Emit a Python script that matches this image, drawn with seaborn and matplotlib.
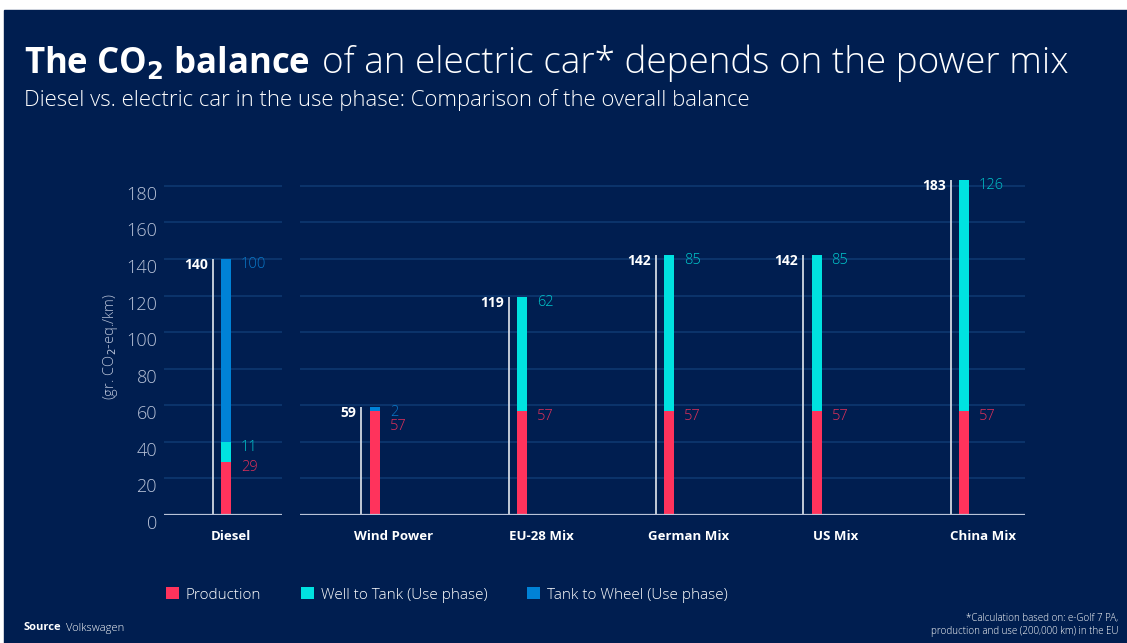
import matplotlib
matplotlib.use("Agg")
import matplotlib.pyplot as plt
from matplotlib.patches import Patch, Rectangle
import numpy as np
import pandas as pd
import seaborn as sns

# ── Data ──────────────────────────────────────────────────────────────────────
categories = ["Diesel", "Wind Power", "EU-28 Mix", "German Mix", "US Mix", "China Mix"]
production = [29, 57, 57, 57, 57, 57]
well_to_tank = [11, 0, 62, 85, 85, 126]
tank_to_wheel = [100, 2, 0, 0, 0, 0]
y_ticks = [0, 20, 40, 60, 80, 100, 120, 140, 160, 180]
series_names = ["Production", "Well to Tank (Use phase)", "Tank to Wheel (Use phase)"]

# ── Style ─────────────────────────────────────────────────────────────────────
BG = "#001E50"
GRID = "#0E3870"
AXIS = "#B9C3D8"
C_PROD, C_WTT, C_TTW = "#FF335C", "#00E2E0", "#0082D6"
L_PROD, L_WTT, L_TTW = "#E0305A", "#00C8CC", "#0A78C8"
colors = [C_PROD, C_WTT, C_TTW]
label_colors = [L_PROD, L_WTT, L_TTW]

sns.set_theme(style="white")
plt.rcParams["font.family"] = ["Open Sans", "DejaVu Sans"]

df = pd.DataFrame({
    "category": categories,
    "prod": production,
    "wtt": well_to_tank,
    "ttw": tank_to_wheel,
})
df["c1"] = df["prod"]
df["c2"] = df["prod"] + df["wtt"]
df["c3"] = df["c2"] + df["ttw"]

W, H = 1127, 643
fig = plt.figure(figsize=(W / 100, H / 100), dpi=100, facecolor="white")
fig.patches.append(Rectangle((4 / W, 0), 1 - 4 / W, 1 - 10 / H,
                             transform=fig.transFigure, color=BG, zorder=-10))

bottom = 1 - 515 / H
height = (515 - 178.6) / H
ax_d = fig.add_axes([164 / W, bottom, 118 / W, height])
ax_e = fig.add_axes([300 / W, bottom, 725 / W, height])

BAR_W = 0.068
LINE_DX = -0.09


def draw_panel(ax, sub, xlim, tick_dx, show_y):
    ax.set_facecolor(BG)
    # stacked bars: draw cumulative totals back to front
    for col, c in zip(["c3", "c2", "c1"], [C_TTW, C_WTT, C_PROD]):
        sns.barplot(data=sub, x="category", y=col, color=c, width=BAR_W,
                    saturation=1, ax=ax, zorder=3, linewidth=0)
    n = len(sub)
    xs = np.arange(n)
    ax.set_xlim(*xlim)
    ax.set_ylim(0, 184)
    ax.set_yticks(y_ticks)
    for y in y_ticks[1:]:
        ax.axhline(y, color=GRID, lw=1.2, zorder=1)
    ax.axhline(0, color=AXIS, lw=1.6, zorder=4)
    for s in ax.spines.values():
        s.set_visible(False)
    ax.set_xlabel("")
    ax.set_ylabel("")
    ax.set_xticks(xs + tick_dx)
    ax.set_xticklabels(sub["category"], color="white", fontsize=9.5,
                       fontweight="bold")
    ax.tick_params(axis="x", length=0, pad=11)
    if show_y:
        ax.tick_params(axis="y", length=0, pad=5, labelsize=13, labelcolor=AXIS)
        for t in ax.get_yticklabels():
            t.set_va("top")
            t.set_fontweight("light")
    else:
        ax.tick_params(axis="y", left=False, labelleft=False)

    for i, row in enumerate(sub.itertuples()):
        total = row.c3
        ax.vlines(i + LINE_DX, 0, total, color="#E3E7EE", lw=1.2, zorder=3)
        ax.annotate(f"{total:g}", (i + LINE_DX, total - 3), xytext=(-5, 0),
                    textcoords="offset pixels", ha="right", va="center",
                    color="white", fontsize=10, fontweight="bold")
        # segment labels, right of bar, pushed down to avoid overlap
        tops = [(row.c3, row.ttw, 2), (row.c2, row.wtt, 1), (row.c1, row.prod, 0)]
        prev = None
        for top, val, k in tops:
            if val == 0:
                continue
            y = top - 3
            if prev is not None:
                y = min(y, prev - 7.7)
            prev = y
            ax.annotate(f"{val:g}", (i + BAR_W / 2, y), xytext=(10, 0),
                        textcoords="offset pixels", ha="left", va="center",
                        color=label_colors[k], fontsize=10.5, fontweight="light")


draw_panel(ax_d, df.iloc[:1].reset_index(drop=True), (-0.42, 0.38), 0.03, True)
draw_panel(ax_e, df.iloc[1:].reset_index(drop=True), (-0.507, 4.415), 0.13, False)

ax_d.set_ylabel("(gr. CO$_2$-eq./km)", color=AXIS, fontsize=10.5,
                fontweight="light", labelpad=4)

# ── Titles ────────────────────────────────────────────────────────────────────
t_bold = fig.text(24 / W, 1 - 73 / H, "The CO$_\\mathbf{2}$ balance", color="white",
                  fontsize=25, fontweight="bold", va="baseline", ha="left")
t_src = fig.text(24 / W, 1 - 628 / H, "Source", color="white", fontsize=8,
                 fontweight="bold", va="center")
fig.canvas.draw()
renderer = fig.canvas.get_renderer()
bb = t_bold.get_window_extent(renderer)
fig.text((bb.x1 + 12) / W, 1 - 73 / H, "of an electric car* depends on the power mix",
         color="white", fontsize=26.6, fontweight="light", va="baseline", ha="left")
fig.text(24 / W, 1 - 106 / H,
         "Diesel vs. electric car in the use phase: Comparison of the overall balance",
         color="white", fontsize=15.9, fontweight="light", va="baseline", ha="left")

# ── Legend ────────────────────────────────────────────────────────────────────
handles = [Patch(facecolor=c, edgecolor="none") for c in colors]
fig.legend(handles, series_names, loc="center left",
           bbox_to_anchor=(152 / W, 1 - 595 / H), ncol=3, frameon=False,
           handlelength=0.85, handleheight=0.85, handletextpad=0.45,
           columnspacing=2.6, labelcolor="white",
           prop={"weight": "light", "size": 11})

# ── Footer ────────────────────────────────────────────────────────────────────
sb = t_src.get_window_extent(renderer)
fig.text((sb.x1 + 4) / W, 1 - 628 / H, "Volkswagen", color="white", fontsize=8,
         fontweight="light", va="center")
fig.text(1118 / W, 1 - 625 / H,
         "*Calculation based on: e-Golf 7 PA,\nproduction and use (200,000 km) in the EU",
         color="white", fontsize=7, fontweight="light", ha="right", va="center",
         linespacing=1.3)

fig.savefig("out.png", dpi=100, facecolor="white")
